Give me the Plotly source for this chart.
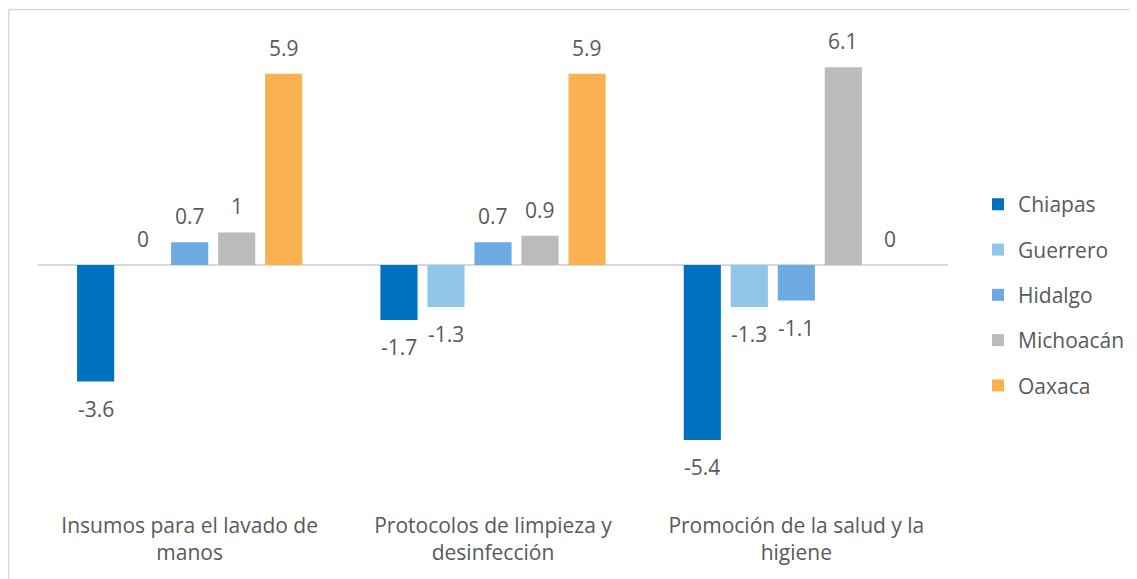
import plotly.graph_objects as go

categories = ["Insumos para el lavado de<br>manos",
              "Protocolos de limpieza y<br>desinfección",
              "Promoción de la salud y la<br>higiene"]
series_names = ["Chiapas", "Guerrero", "Hidalgo", "Michoacán", "Oaxaca"]
chiapas = [-3.6, -1.7, -5.4]
guerrero = [0, -1.3, -1.3]
hidalgo = [0.7, 0.7, -1.1]
michoacan = [1, 0.9, 6.1]
oaxaca = [5.9, 5.9, 0]
series_values = [chiapas, guerrero, hidalgo, michoacan, oaxaca]
colors = ["#0070C0", "#90C7E8", "#6DAAE2", "#BBBBBB", "#F9B24F"]

W, H = 1137, 579
ML, MR, MT, MB = 30, 197, 29.5, 78.5
BARGAP = 0.225
BARGROUPGAP = 0.21
FONT = "Open Sans"
TXT = "#595959"

fig = go.Figure()
for name, vals, col in zip(series_names, series_values, colors):
    fig.add_trace(go.Bar(name=name, x=categories, y=vals, marker_color=col,
                         marker_line_width=0, legendgroup=name))

plot_w = W - ML - MR
plot_h = H - MT - MB
slot = plot_w / len(categories) * (1 - BARGAP) / len(series_names)
annots = []
for i, vals in enumerate(series_values):
    for c, v in zip(categories, vals):
        neg = v < 0
        annots.append(dict(x=c, y=v, xref="x", yref="y", text=f"{v:g}",
                           showarrow=False, xshift=(i - (len(series_names) - 1) / 2) * slot,
                           yanchor="top" if neg else "bottom",
                           yshift=-11 if neg else 10,
                           font=dict(family=FONT, size=21, color=TXT)))

fig.update_layout(
    width=W, height=H,
    margin=dict(l=ML, r=MR, t=MT, b=MB),
    barmode="group", bargap=BARGAP, bargroupgap=BARGROUPGAP,
    plot_bgcolor="white", paper_bgcolor="white",
    font=dict(family=FONT, size=21, color=TXT),
    annotations=annots,
    showlegend=True,
    legend=dict(x=(978 - 8 - ML) / plot_w, xanchor="left", y=0.453, yanchor="middle",
                font=dict(family=FONT, size=21, color=TXT),
                tracegroupgap=15, itemwidth=30, bgcolor="rgba(0,0,0,0)"),
    xaxis=dict(showline=False, ticks="", showgrid=False, ticklabelstandoff=3,
               tickfont=dict(family=FONT, size=21, color=TXT)),
    yaxis=dict(range=[-7.5, 7], showticklabels=False, showgrid=False,
               zeroline=True, zerolinecolor="#D9D9D9", zerolinewidth=1.5,
               showline=False, ticks=""),
    shapes=[dict(type="rect", xref="paper", yref="paper",
                 x0=(0.75 - ML) / plot_w, x1=1.3,
                 y0=-0.3, y1=(H - MB - 1) / plot_h,
                 line=dict(color="#D9D9D9", width=1.5), layer="below")],
)

fig.write_html("out.html")
